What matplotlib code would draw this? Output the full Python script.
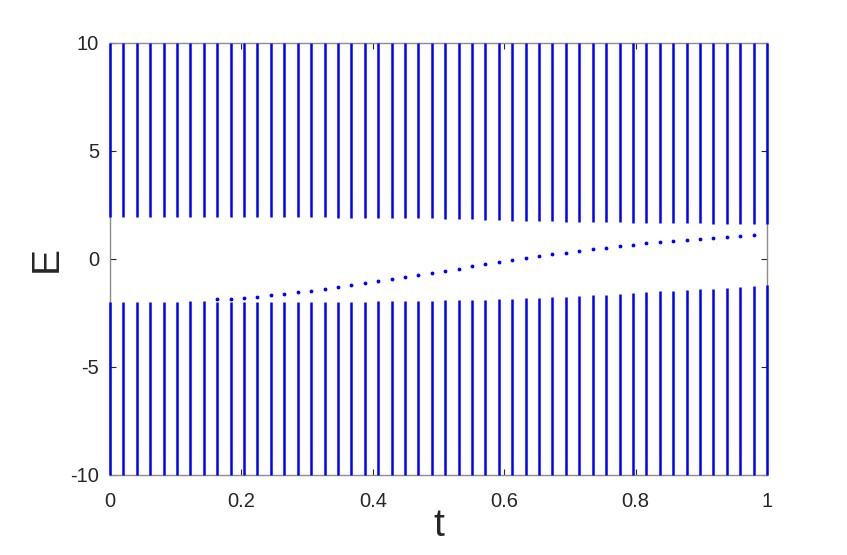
import numpy as np
import matplotlib
matplotlib.use('Agg')
import matplotlib.pyplot as plt

# 50 parameter values t in [0, 1]
t = np.linspace(0, 1, 50)

# lower edge of the upper band (E > 0), one per column
upper_edge = [1.96] * 14 + [
    1.94, 1.93, 1.93, 1.91, 1.91, 1.91, 1.91, 1.88, 1.88, 1.88,
    1.88, 1.85, 1.83, 1.83, 1.80, 1.80, 1.78, 1.77, 1.77, 1.76,
    1.73, 1.73, 1.72, 1.70, 1.70, 1.68, 1.68, 1.68, 1.66, 1.65,
    1.65, 1.63, 1.62, 1.62, 1.62, 1.62,
]

# upper edge of the lower band (E < 0), one per column
lower_edge = [-1.98] * 6 + [-1.93, -1.93] + [-1.98] * 9 + [
    -1.98, -1.97, -1.97, -1.96, -1.96, -1.95, -1.94, -1.93, -1.92, -1.91,
    -1.89, -1.88, -1.86, -1.83, -1.81, -1.80, -1.78,
    -1.75, -1.70, -1.67, -1.67, -1.62, -1.56, -1.51, -1.48, -1.47, -1.42,
    -1.40, -1.37, -1.33, -1.28, -1.25, -1.20,
]

# in-gap state, columns 8..48
gap_idx = list(range(8, 49))
gap_E = [
    -1.87, -1.84, -1.79, -1.75, -1.67, -1.61, -1.54, -1.47, -1.38, -1.28,
    -1.20, -1.11, -1.02, -0.93, -0.83, -0.74, -0.63, -0.54, -0.45, -0.34,
    -0.25, -0.15, -0.06, 0.03, 0.12, 0.21, 0.29, 0.38, 0.45, 0.52,
    0.59, 0.66, 0.72, 0.79, 0.85, 0.89, 0.94, 0.99, 1.03, 1.06, 1.09,
]

E_MAX = 10

plt.rcParams['font.family'] = ['Liberation Sans', 'DejaVu Sans']
plt.rcParams['axes.unicode_minus'] = False  # MATLAB風のハイフン

fig = plt.figure(figsize=(8.47, 5.55), dpi=100)
ax = fig.add_axes([110 / 847, 1 - 475 / 555, 657 / 847, 432 / 555])

blue = '#0000ff'
# バンド（縦の点列）
ax.vlines(t, upper_edge, E_MAX, colors=blue, linewidth=1.8, zorder=3, clip_on=False)
ax.vlines(t, -E_MAX, lower_edge, colors=blue, linewidth=1.8, zorder=3, clip_on=False)
# ギャップ内の状態
ax.plot(t[gap_idx], gap_E, '.', color=blue, markersize=3.5, zorder=3)

ax.set_xlim(0, 1)
ax.set_ylim(-10, 10)
ax.set_xticks([0, 0.2, 0.4, 0.6, 0.8, 1])
ax.set_xticklabels(['0', '0.2', '0.4', '0.6', '0.8', '1'])
ax.set_yticks([-10, -5, 0, 5, 10])

for s in ax.spines.values():
    s.set_color('#8c8c8c')
    s.set_linewidth(1.0)
ax.tick_params(direction='in', length=4, width=0.8, color='#262626',
               labelcolor='#262626', labelsize=14.5,
               top=True, right=True)
ax.tick_params(axis='x', pad=12)
ax.tick_params(axis='y', pad=8)

ax.set_xlabel('t', fontsize=28, color='#262626', labelpad=-2)
ax.set_ylabel('E', fontsize=28, color='#262626', labelpad=4)

fig.savefig('out.png', dpi=100)
